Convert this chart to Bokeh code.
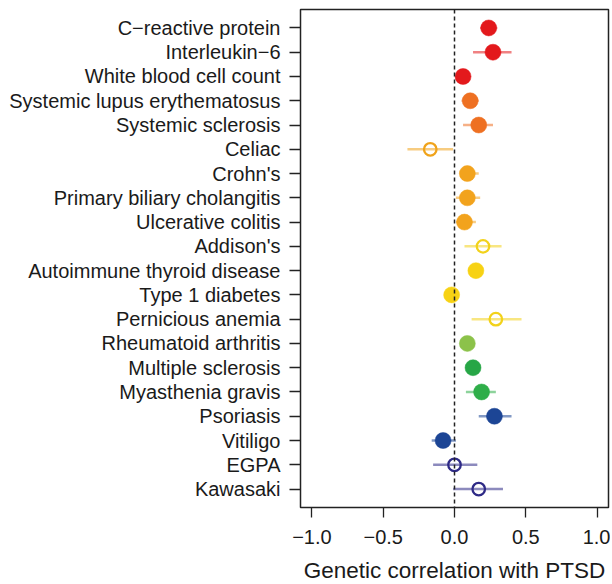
from bokeh.plotting import figure
from bokeh.models import Range1d, FixedTicker, Span, ColumnDataSource
from bokeh.embed import file_html
from bokeh.resources import INLINE

labels = ["C\u2212reactive protein", "Interleukin\u22126", "White blood cell count",
          "Systemic lupus erythematosus", "Systemic sclerosis", "Celiac", "Crohn's",
          "Primary biliary cholangitis", "Ulcerative colitis", "Addison's",
          "Autoimmune thyroid disease", "Type 1 diabetes", "Pernicious anemia",
          "Rheumatoid arthritis", "Multiple sclerosis", "Myasthenia gravis",
          "Psoriasis", "Vitiligo", "EGPA", "Kawasaki"]
rg = [0.24, 0.27, 0.06, 0.11, 0.17, -0.17, 0.09, 0.09, 0.07, 0.20,
      0.15, -0.02, 0.29, 0.09, 0.13, 0.19, 0.28, -0.08, 0.00, 0.17]
lower = [0.18, 0.13, 0.03, 0.05, 0.06, -0.33, 0.04, 0.01, 0.01, 0.07,
         0.12, -0.05, 0.12, 0.06, 0.09, 0.08, 0.17, -0.16, -0.15, -0.01]
upper = [0.30, 0.40, 0.09, 0.17, 0.27, -0.01, 0.17, 0.18, 0.15, 0.33,
         0.18, 0.01, 0.47, 0.12, 0.17, 0.29, 0.40, 0.01, 0.16, 0.34]
filled = [True, True, True, True, True, False, True, True, True, False,
          True, True, False, True, True, True, True, True, False, False]
colors = ["#E3191C", "#E3191C", "#E3191C", "#EE7022", "#EE7022", "#F0A31A",
          "#F2A31D", "#F2A31D", "#F2A31D", "#F2D21A", "#F7D214", "#F7D214",
          "#F2D21A", "#8CC24A", "#27A646", "#2FAE49", "#1C4595", "#1C4595",
          "#2E2A86", "#2E2A86"]
x_ticks = [-1.0, -0.5, 0.0, 0.5, 1.0]
x_tick_labels = ["\u22121.0", "\u22120.5", "0.0", "0.5", "1.0"]
x_title = "Genetic correlation with PTSD"

n = len(labels)
ypos = [n - i for i in range(n)]

FONT = "Liberation Sans"

p = figure(frame_width=308, frame_height=498, output_backend="svg",
           toolbar_location=None, x_range=Range1d(-1.08, 1.08),
           y_range=Range1d(0.24, n + 0.76),
           min_border_left=300, min_border_right=2, min_border_top=9,
           min_border_bottom=60)
p.background_fill_color = "white"
p.border_fill_color = "white"
p.outline_line_color = "#222222"
p.outline_line_width = 1.5
p.xgrid.visible = False
p.ygrid.visible = False

src = ColumnDataSource(dict(y=ypos, rg=rg, lo=lower, hi=upper, c=colors))
p.segment(x0="lo", x1="hi", y0="y", y1="y", line_color="c", line_alpha=0.55,
          line_width=2.5, source=src)

fi = [i for i in range(n) if filled[i]]
oi = [i for i in range(n) if not filled[i]]
src_f = ColumnDataSource(dict(x=[rg[i] for i in fi], y=[ypos[i] for i in fi],
                              c=[colors[i] for i in fi]))
src_o = ColumnDataSource(dict(x=[rg[i] for i in oi], y=[ypos[i] for i in oi],
                              c=[colors[i] for i in oi]))
p.scatter(x="x", y="y", source=src_f, size=16, fill_color="c", line_color="c",
          line_width=0.5)
p.scatter(x="x", y="y", source=src_o, size=12.5, fill_color=None, line_color="c",
          line_width=2.3)

p.add_layout(Span(location=0, dimension="height", line_color="#222222",
                  line_width=1.5, line_dash="4 3"))

# x axis
xa = p.xaxis[0]
xa.ticker = FixedTicker(ticks=x_ticks)
xa.major_label_overrides = {t: l for t, l in zip(x_ticks, x_tick_labels)}
xa.axis_line_color = None
xa.major_tick_line_color = "#222222"
xa.major_tick_line_width = 1.3
xa.major_tick_out = 10
xa.major_tick_in = 0
xa.minor_tick_line_color = None
xa.major_label_text_font = FONT
xa.major_label_text_font_size = "20px"
xa.major_label_text_color = "#1a1a1a"
xa.major_label_standoff = 12
xa.axis_label = x_title
xa.axis_label_text_font = FONT
xa.axis_label_text_font_size = "22.5px"
xa.axis_label_text_font_style = "normal"
xa.axis_label_text_color = "#1a1a1a"
xa.axis_label_standoff = 11

# y axis
ya = p.yaxis[0]
ya.ticker = FixedTicker(ticks=ypos)
ya.major_label_overrides = {y: l for y, l in zip(ypos, labels)}
ya.axis_line_color = None
ya.major_tick_line_color = "#222222"
ya.major_tick_line_width = 1.3
ya.major_tick_out = 11
ya.major_tick_in = 0
ya.minor_tick_line_color = None
ya.major_label_text_font = FONT
ya.major_label_text_font_size = "20px"
ya.major_label_text_color = "#1a1a1a"
ya.major_label_standoff = 9

open("out.html", "w").write(file_html(p, INLINE))
